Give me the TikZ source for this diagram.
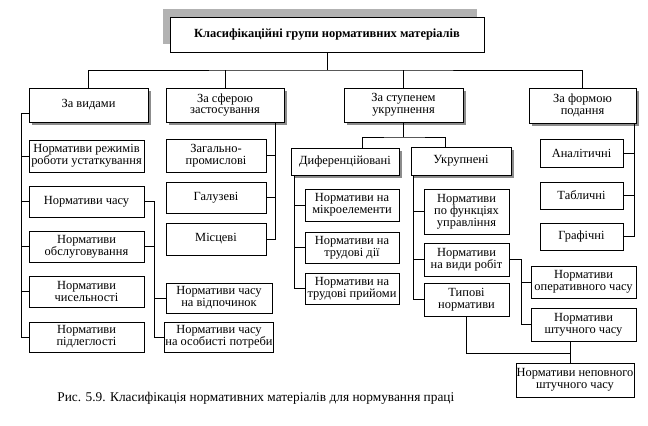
\documentclass[tikz,border=0pt]{standalone}
\usepackage{fontspec}
\setmainfont{Liberation Serif}
\usetikzlibrary{shadows}
\begin{document}
\begin{tikzpicture}[x=1bp,y=-1bp,line width=0.8bp,
    box/.style={draw,fill=white,inner xsep=0.5bp,inner ysep=1bp,align=center,
        font=\fontsize{12.5}{12}\selectfont},
    sz/.style 2 args={minimum width=#1bp,minimum height=#2bp},
    shad/.style={general shadow={fill=black!45,shadow xshift=3bp,shadow yshift=-3bp}}]
    \useasboundingbox (0,0) rectangle (648,425);
    % top level
    \node[box,sz={314}{35},font=\bfseries\fontsize{12.5}{13}\selectfont,
        general shadow={fill=black!30,shadow xshift=-7bp,shadow yshift=8bp}]
        (title) at (327,34.5) {Класифікаційні групи нормативних матеріалів};
    \node[box,shad,sz={119}{34}] (vydy) at (88.5,105) {За видами};
    \node[box,shad,sz={118}{34}] (sfera) at (225,105) {За сферою\\застосування};
    \node[box,shad,sz={119}{34}] (stupin) at (403.5,105) {За ступенем\\укрупнення};
    \node[box,shad,sz={107}{35}] (forma) at (582.5,105.5) {За формою\\подання};
    \coordinate (bus) at (327,70);
    \draw (title.south) -- (bus);
    \draw (vydy.north) |- (bus) -| (forma.north);
    \draw (sfera.north) -- (sfera.north |- bus);
    \draw (stupin.north) -- (stupin.north |- bus);
    % za vydamy
    \node[box,sz={115}{32}] (rezhym) at (86.5,156) {Нормативи режимів\\роботи устаткування};
    \node[box,sz={115}{31}] (chas) at (86.5,201.5) {Нормативи часу};
    \node[box,sz={115}{31}] (obsl) at (86.5,246.5) {Нормативи\\обслуговування};
    \node[box,sz={115}{31}] (chys) at (86.5,291.5) {Нормативи\\чисельності};
    \node[box,sz={115}{30}] (pidl) at (86.5,337) {Нормативи\\підлеглості};
    \coordinate (vsp) at (21,0);
    \draw ([yshift=-8bp]vydy.west) -| (vsp |- pidl.west) -- (pidl.west);
    \foreach \n in {rezhym,chas,obsl,chys}
        {\draw (vsp |- \n.west) -- (\n.west);
        }
    \node[box,sz={106}{30}] (vidp) at (219,298) {Нормативи часу\\на відпочинок};
    \node[box,sz={106}{30}] (osob) at (219,337) {Нормативи часу\\на особисті потреби};
    \coordinate (csp) at (154,0);
    \draw (chas.east) -| (csp |- osob.west) -- (osob.west);
    \draw (obsl.east) -- (csp |- obsl.east);
    \draw (csp |- vidp.west) -- (vidp.west);
    % za sferoyu
    \node[box,sz={100}{33}] (zag) at (216,155.5) {Загально-\\промислові};
    \node[box,sz={100}{31}] (gal) at (216,197.5) {Галузеві};
    \node[box,sz={100}{32}] (misc) at (216,239) {Місцеві};
    \coordinate (ssp) at (275,0);
    \draw (sfera.south -| ssp) -- (ssp |- misc.east) -- (misc.east);
    \foreach \n in {zag,gal}
        {\draw (ssp |- \n.east) -- (\n.east);
        }
    % za stupenem
    \node[box,shad,sz={108}{27}] (dyf) at (345,161.5) {Диференційовані};
    \node[box,shad,sz={100}{28}] (ukr) at (461,161) {Укрупнені};
    \coordinate (sbus) at (405,137);
    \draw (stupin.south) -- (stupin.south |- sbus);
    \draw ([xshift=17bp]dyf.north) |- (sbus) -| ([xshift=-16bp]ukr.north);
    \node[box,sz={94}{32}] (mikro) at (352,205) {Нормативи на\\мікроелементи};
    \node[box,sz={94}{31}] (dii) at (352,247.5) {Нормативи на\\трудові дії};
    \node[box,sz={94}{31}] (pryi) at (352,288.5) {Нормативи на\\трудові прийоми};
    \coordinate (dsp) at (294,0);
    \draw (dyf.south -| dsp) -- (dsp |- pryi.west) -- (pryi.west);
    \foreach \n in {mikro,dii}
        {\draw (dsp |- \n.west) -- (\n.west);
        }
    \node[box,sz={85}{45}] (funk) at (466.5,211.5) {Нормативи\\по функціях\\управління};
    \node[box,sz={85}{33}] (vydyrob) at (466.5,259.5) {Нормативи\\на види робіт};
    \node[box,sz={85}{33}] (typovi) at (466.5,299.5) {Типові\\нормативи};
    \coordinate (usp) at (413,0);
    \draw (ukr.south -| usp) -- (usp |- typovi.west) -- (typovi.west);
    \foreach \n in {funk,vydyrob}
        {\draw (usp |- \n.west) -- (\n.west);
        }
    \node[box,sz={105}{32}] (oper) at (583.5,282) {Нормативи\\оперативного часу};
    \node[box,sz={105}{33}] (shtuch) at (583.5,324.5) {Нормативи\\штучного часу};
    \coordinate (rsp) at (521,0);
    \draw (vydyrob.east) -| (rsp |- shtuch.west) -- (shtuch.west);
    \draw (rsp |- oper.west) -- (oper.west);
    \node[box,sz={118}{34}] (nepovn) at (575,380) {Нормативи неповного\\штучного часу};
    \coordinate (jn) at (570,353);
    \draw (typovi.south) |- (jn);
    \draw (shtuch.south -| jn) -- (nepovn.north -| jn);
    % za formoyu
    \node[box,sz={83}{28}] (anal) at (581.5,153) {Аналітичні};
    \node[box,sz={83}{27}] (tabl) at (581.5,195.5) {Табличні};
    \node[box,sz={83}{27}] (graf) at (581.5,236.5) {Графічні};
    \coordinate (fsp) at (634,0);
    \draw (forma.south -| fsp) -- (fsp |- graf.east) -- (graf.east);
    \foreach \n in {anal,tabl}
        {\draw (fsp |- \n.east) -- (\n.east);
        }
    % caption
    \node[anchor=west,inner sep=0pt,font=\fontsize{13.4}{15}\selectfont] (cap) at (57,398)
        {Рис. 5.9. Класифікація нормативних матеріалів для нормування праці};
\end{tikzpicture}
\end{document}
